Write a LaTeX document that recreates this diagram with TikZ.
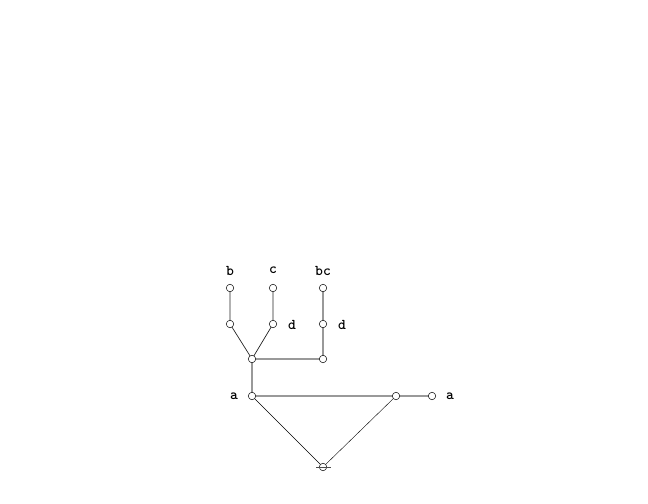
\documentclass[tikz,border=0pt]{standalone}
\usepackage{fontspec}
\newfontfamily\lblfont{lmmonolt10-bold.otf}
\begin{document}
\begin{tikzpicture}[x=1bp,y=-1bp,
  vtx/.style={circle,draw=black,fill=white,inner sep=0pt,minimum size=7.5bp,line width=0.5bp},
  lbl/.style={font=\lblfont\fontsize{15}{17}\selectfont,inner sep=0pt},
  graye/.style={draw=black!40,line width=1.2bp},
  darke/.style={draw=black!85,line width=0.7bp},
  thine/.style={draw=black,line width=0.4bp}]
\useasboundingbox (0,0) rectangle (648,504);
\coordinate (pb1) at (230,288);
\coordinate (pc1) at (273,288);
\coordinate (pbc1) at (323,288);
\coordinate (pb2) at (230,324);
\coordinate (pc2) at (273,324);
\coordinate (pbc2) at (323,324);
\coordinate (pj) at (252,359);
\coordinate (pr) at (323,359);
\coordinate (pa) at (252,396);
\coordinate (pm) at (396,396);
\coordinate (pe) at (432,396);
\coordinate (pbot) at (323,467);
\coordinate (tl) at (316,467);
\coordinate (tr) at (331,467);
\draw[darke] (pb1) -- (pb2) -- (pj) -- (pc2) -- (pc1);
\draw[graye] (pbc1) -- (pbc2) -- (pr) -- (pj) -- (pa) -- (pm) -- (pe);
\draw[thine] (pa) -- (pbot) -- (pm);
\node[vtx] (b1) at (pb1) {};
\node[vtx] (c1) at (pc1) {};
\node[vtx] (bc1) at (pbc1) {};
\node[vtx] (b2) at (pb2) {};
\node[vtx] (c2) at (pc2) {};
\node[vtx] (bc2) at (pbc2) {};
\node[vtx] (j) at (pj) {};
\node[vtx] (r) at (pr) {};
\node[vtx] (a) at (pa) {};
\node[vtx] (m) at (pm) {};
\node[vtx] (e) at (pe) {};
\node[vtx] (bot) at (pbot) {};
\draw[thine,draw=black!70] (tl) -- (tr);
\node[lbl] (lb) at (230,271) {b};
\node[lbl] (lc) at (273,270) {c};
\node[lbl] (lbc) at (323,271) {bc};
\node[lbl] (ld1) at (292,325) {d};
\node[lbl] (ld2) at (342,325) {d};
\node[lbl] (la1) at (234,396) {a};
\node[lbl] (la2) at (450,396) {a};
\end{tikzpicture}
\end{document}
